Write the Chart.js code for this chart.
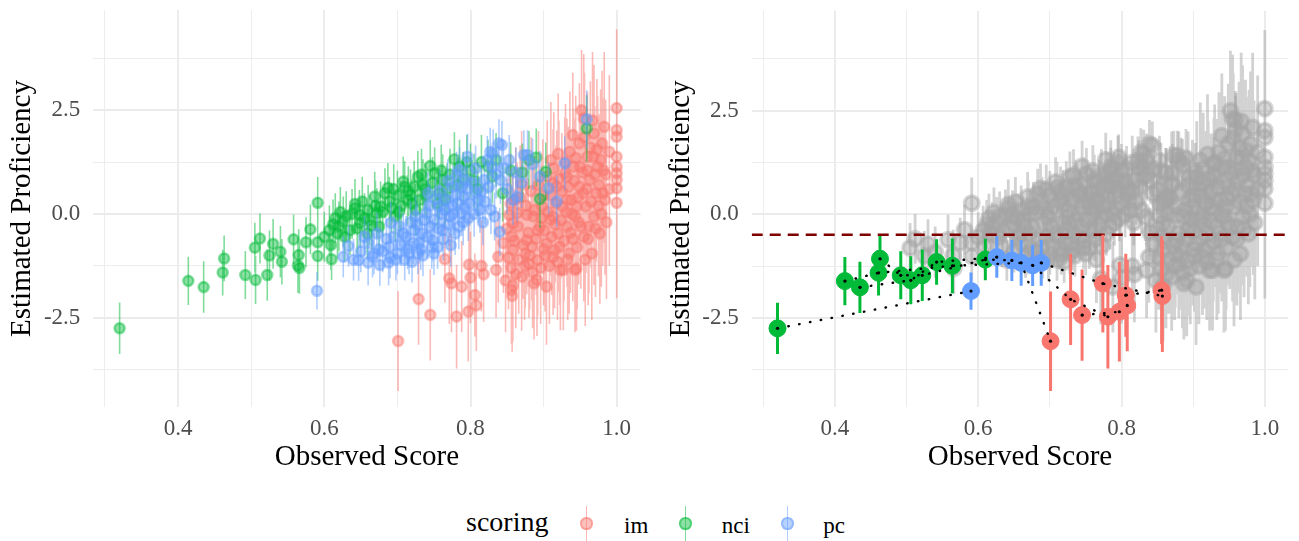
<!DOCTYPE html>
<html>
<head>
<meta charset="utf-8">
<script src="https://cdn.jsdelivr.net/npm/chart.js@4.4.1/dist/chart.umd.min.js"></script>
<style>
  body { margin: 0; background: #fff; width: 1299px; height: 541px; overflow: hidden; position: relative; font-family: "Liberation Serif", "Times New Roman", serif; }
  canvas { position: absolute; top: 0; }
  #left { left: 0; }
  #right { left: 650px; }
  .txt { position: absolute; white-space: nowrap; color: #000; font-family: "Liberation Serif", serif; }
  .key { position: absolute; top: 506px; width: 20px; height: 35px; }
  .key .bar { position: absolute; left: 9.2px; top: 0; width: 1.6px; height: 35px; }
  .key .dot { position: absolute; left: 3.7px; top: 11.2px; width: 12.6px; height: 12.6px; box-sizing: border-box; border-radius: 50%; border: 2.6px solid; }
</style>
</head>
<body>
<canvas id="left" width="650" height="480"></canvas>
<canvas id="right" width="649" height="480"></canvas>
<div class="txt" style="left:466px;top:508px;font-size:28px;line-height:28px">scoring</div>
<div id="keys"></div>
<script>
/* ── axis setup ── */
const X_MIN = 0.284, X_MAX = 1.0326, Y_MIN = -4.648, Y_MAX = 4.913;
const X_TICKS = [0.3, 0.4, 0.5, 0.6, 0.7, 0.8, 0.9, 1.0];
const X_MAJOR = [0.4, 0.6, 0.8, 1.0];
const X_LABELS = ['0.4', '0.6', '0.8', '1.0'];
const Y_TICKS = [-3.75, -2.5, -1.25, 0, 1.25, 2.5, 3.75];
const Y_MAJOR = [-2.5, 0, 2.5];
const Y_LABELS = ['-2.5', '0.0', '2.5'];
const CUTOFF = -0.49;
const GROUPS = ['im', 'nci', 'pc'];

/* ── im (red) ── */
const imX = [0.765,0.771,0.788,0.798,0.800,0.835,0.838,0.853,0.858,0.857,0.858,0.856,0.858,0.864,0.870,0.875,0.877,0.877,0.884,0.886,
  0.887,0.891,0.892,0.892,0.895,0.898,0.904,0.904,0.909,0.913,0.913,0.913,0.915,0.918,0.920,0.922,0.923,0.926,0.927,0.929,
  0.932,0.932,0.932,0.935,0.938,0.941,0.943,0.943,0.945,0.945,0.949,0.949,0.950,0.952,0.954,0.955,0.958,0.960,0.963,0.966,
  0.968,0.969,0.969,0.972,0.974,0.977,0.980,0.983,0.984,0.985,0.986,1.000,1.000,1.000,1.000,1.000,1.000,1.000,1.000,1.000,
  0.962,0.975,0.940,0.948,0.900,0.880,0.866,0.960,0.990,0.990,
  0.845,0.848,0.850,0.852,0.855,0.860,0.862,0.865,0.868,0.872,0.874,0.876,0.879,0.881,0.883,0.885,0.888,0.890,0.893,0.896,
  0.897,0.899,0.901,0.902,0.905,0.906,0.908,0.910,0.911,0.914,0.916,0.917,0.919,0.921,0.924,0.925,0.928,0.930,0.931,0.933,
  0.934,0.936,0.937,0.939,0.942,0.944,0.946,0.947,0.951,0.953,0.956,0.957,0.959,0.961,0.964,0.965,0.967,0.970,0.971,0.973,
  0.976,0.978,0.979,0.981,0.982,0.955,0.940,0.920,0.910,0.870,0.862,0.815,0.818];
const imY = [-1.09,-1.55,-1.75,-1.22,-1.53,-1.35,-1.03,-0.02,-0.22,-0.54,-0.86,-1.30,-1.72,0.02,-1.51,-0.95,-0.02,-0.63,-0.79,-0.06,
  -1.67,-1.59,-0.39,-1.11,-0.30,0.18,-0.71,-1.75,-0.14,-0.06,0.74,-1.03,-0.87,0.66,-0.47,-0.79,-1.35,0.18,-1.35,0.98,
  -0.30,0.34,0.90,-0.95,0.34,1.14,-0.06,-1.35,-1.31,0.18,1.70,0.66,1.14,2.50,0.50,-0.55,0.18,1.38,0.82,-0.95,
  1.38,1.94,-0.06,0.50,1.14,-0.47,1.70,2.10,0.34,0.95,-0.20,2.55,2.02,1.86,1.38,1.14,0.98,0.82,0.62,0.27,
  -0.30,0.20,-0.60,-0.20,-0.85,-1.20,-1.10,1.05,0.60,1.50,
  -0.70,-1.60,-0.35,-1.05,0.25,-0.65,-1.45,-0.30,0.40,-0.75,-1.25,0.20,-0.45,-1.00,0.55,-1.40,0.10,-0.60,0.70,-1.30,
  -0.10,0.45,-0.40,-1.00,0.90,0.05,-1.25,0.45,-0.55,1.10,-0.25,0.25,-1.15,0.85,-0.15,0.55,-0.65,1.25,0.05,-1.10,
  0.65,1.50,-0.45,0.00,0.80,1.35,-0.80,0.40,-0.30,1.00,1.85,-1.10,0.60,-0.60,1.60,0.30,2.25,0.95,-0.35,1.55,
  0.70,1.30,0.00,0.50,1.05,2.30,1.90,1.45,1.30,0.70,0.35,-1.25,-1.45];
const imSE = [1.05,1.1,1.1,1.15,1.1,1.15,1.1,1.2,1.2,1.25,1.3,1.3,1.35,1.2,1.3,1.3,1.25,1.3,1.3,1.3,
  1.35,1.35,1.3,1.35,1.3,1.3,1.35,1.4,1.35,1.35,1.3,1.4,1.4,1.35,1.4,1.4,1.45,1.4,1.45,1.35,
  1.45,1.4,1.4,1.45,1.45,1.4,1.5,1.5,1.5,1.5,1.45,1.5,1.5,1.45,1.55,1.55,1.6,1.55,1.6,1.6,
  1.6,1.65,1.65,1.65,1.7,1.7,1.75,1.8,1.8,1.8,1.85,1.9,1.9,1.9,1.9,1.9,1.9,1.9,1.9,2.3,
  1.6,1.7,1.5,1.5,1.35,1.3,1.3,1.6,1.85,1.85,
  1.2,1.25,1.2,1.25,1.2,1.25,1.3,1.25,1.25,1.3,1.3,1.3,1.3,1.3,1.3,1.35,1.3,1.35,1.3,1.35,
  1.3,1.35,1.35,1.35,1.35,1.35,1.4,1.35,1.4,1.35,1.4,1.4,1.4,1.4,1.4,1.4,1.45,1.4,1.45,1.45,
  1.45,1.45,1.45,1.45,1.5,1.5,1.5,1.5,1.5,1.5,1.55,1.6,1.55,1.6,1.6,1.6,1.65,1.65,1.65,1.7,
  1.7,1.7,1.75,1.75,1.75,1.55,1.5,1.45,1.4,1.3,1.25,1.1,1.15];

/* ── nci (green) ── */
const nciX = [0.505,0.512,0.525,0.530,0.540,0.558,0.566,0.565,0.575,0.581,0.591,0.591,0.591,0.607,0.609,0.615,0.618,0.620,0.626,0.630,
  0.635,0.642,0.642,0.648,0.649,0.655,0.659,0.660,0.665,0.669,0.672,0.677,0.680,0.687,0.689,0.697,0.700,0.705,0.708,0.714,
  0.715,0.720,0.723,0.728,0.731,0.735,0.740,0.745,0.751,0.755,0.757,0.762,0.768,0.778,0.785,0.790,0.800,0.810,0.824,0.830,
  0.844,0.871,0.890,0.895,0.903,0.959,
  0.600,0.612,0.622,0.628,0.638,0.645,0.652,0.662,0.670,0.675,0.683,0.692,0.695,0.702,0.710,0.718,0.725,0.733,0.738,0.748,
  0.760,0.765,0.772,0.782,0.795,0.805,0.815,0.835,0.855,0.880];
const nciY = [-0.81,-0.59,-1.00,-0.72,-0.91,-0.61,-1.30,-0.99,-0.68,-0.37,0.27,-0.68,-1.01,-0.39,-0.75,-0.10,-0.47,-0.30,-0.18,-0.05,
  -0.39,0.14,0.24,-0.02,-0.22,-0.10,-0.47,0.10,-0.28,0.42,0.02,0.18,0.05,0.63,0.30,-0.06,0.45,0.20,0.78,0.34,
  0.55,0.25,0.66,0.90,0.34,0.70,0.45,1.16,0.98,0.25,0.50,0.82,0.60,1.32,1.14,0.85,1.05,0.60,1.14,0.90,
  0.50,1.00,1.36,0.36,1.02,2.06,
  -0.55,-0.25,0.05,-0.55,0.00,-0.35,0.30,-0.15,0.20,-0.30,0.50,0.15,0.60,0.05,0.65,0.45,0.10,0.95,0.60,0.75,
  1.05,0.35,0.95,0.70,1.25,0.80,1.25,1.30,1.05,1.30];
const nciSE = [0.6,0.6,0.6,0.6,0.62,0.6,0.62,0.62,0.6,0.6,0.62,0.6,0.6,0.6,0.6,0.6,0.6,0.6,0.6,0.6,
  0.6,0.6,0.6,0.6,0.6,0.6,0.6,0.6,0.6,0.6,0.6,0.6,0.6,0.6,0.6,0.6,0.6,0.6,0.6,0.6,
  0.6,0.6,0.62,0.62,0.62,0.62,0.62,0.62,0.62,0.62,0.62,0.62,0.62,0.65,0.65,0.65,0.65,0.65,0.65,0.65,
  0.68,0.7,0.7,0.7,0.7,0.8,
  0.6,0.6,0.6,0.6,0.6,0.6,0.6,0.6,0.6,0.6,0.6,0.6,0.6,0.6,0.62,0.62,0.62,0.62,0.62,0.62,
  0.62,0.62,0.62,0.65,0.65,0.65,0.65,0.65,0.68,0.7];

/* ── pc (blue) ── */
const pcX = [0.633,0.650,0.660,0.666,0.672,0.675,0.680,0.689,0.690,0.691,0.695,0.700,0.705,0.708,0.710,0.714,0.718,0.720,0.723,0.725,
  0.728,0.730,0.734,0.735,0.740,0.742,0.745,0.748,0.750,0.751,0.755,0.757,0.760,0.762,0.767,0.770,0.772,0.775,0.776,0.779,
  0.780,0.782,0.785,0.788,0.790,0.791,0.793,0.795,0.796,0.799,0.805,0.808,0.813,0.815,0.819,0.820,0.825,0.827,0.830,0.831,
  0.833,0.839,0.840,0.841,0.843,0.853,0.858,0.864,0.873,0.878,0.895,0.907,0.918,0.929,0.959,
  0.640,0.655,0.668,0.685,0.698,0.703,0.712,0.716,0.722,0.727,0.732,0.737,0.741,0.744,0.747,0.752,0.756,0.758,0.763,0.765,
  0.769,0.773,0.777,0.781,0.784,0.787,0.792,0.797,0.802,0.807,0.811,0.817,0.823,0.828,0.835,0.845,0.850,0.862,0.870,0.885];
const pcY = [-0.77,-0.90,-0.70,-1.03,-0.47,-0.85,-0.90,-0.79,-1.05,-0.21,-0.55,-0.95,-0.75,-0.47,-1.10,-0.83,-0.20,-1.15,-0.39,-0.06,
  -0.95,-0.70,-0.47,-1.00,0.02,0.50,-0.30,-0.63,-0.95,-0.14,-0.80,0.18,0.00,-0.39,0.34,-0.25,-0.06,0.20,0.66,-0.47,
  0.45,0.26,1.06,0.02,-0.20,0.42,0.82,0.60,1.38,0.26,0.00,0.50,0.10,0.55,0.82,0.30,0.65,1.50,1.14,1.46,
  -0.06,1.70,-0.43,0.82,1.66,1.30,0.34,0.42,1.42,1.42,0.90,0.62,0.30,1.22,2.28,
  -1.10,-0.55,-0.95,-0.60,-1.10,-0.30,-0.55,-0.95,-0.70,-0.25,-0.85,-0.15,-0.55,0.20,-0.80,0.35,-0.35,0.55,-0.60,0.10,
  0.80,-0.75,0.00,0.95,-0.30,0.65,0.15,-0.10,0.75,1.10,0.35,-0.20,1.30,0.10,0.95,1.10,0.60,1.00,0.75,1.20];
const pcSE = [0.5,0.5,0.5,0.5,0.5,0.5,0.5,0.5,0.5,0.5,0.5,0.5,0.5,0.5,0.5,0.5,0.5,0.5,0.5,0.5,
  0.5,0.5,0.5,0.5,0.52,0.52,0.52,0.52,0.52,0.52,0.52,0.52,0.52,0.52,0.52,0.52,0.52,0.52,0.52,0.52,
  0.52,0.52,0.55,0.55,0.55,0.55,0.55,0.55,0.55,0.55,0.55,0.55,0.55,0.55,0.55,0.55,0.55,0.58,0.58,0.58,
  0.58,0.58,0.58,0.58,0.58,0.6,0.6,0.6,0.6,0.6,0.62,0.62,0.62,0.65,0.7,
  0.5,0.5,0.5,0.5,0.5,0.5,0.5,0.5,0.5,0.5,0.5,0.52,0.52,0.52,0.52,0.52,0.52,0.52,0.52,0.52,
  0.52,0.52,0.52,0.55,0.55,0.55,0.55,0.55,0.55,0.55,0.55,0.55,0.58,0.58,0.58,0.58,0.6,0.6,0.6,0.62];

/* ── highlighted cases (right panel, also shown on the left) ── */
const hiImX = [0.701,0.729,0.745,0.774,0.781,0.797,0.808,0.806,0.856,0.857];
const hiImY = [-3.06,-2.05,-2.43,-1.67,-2.47,-2.35,-2.20,-1.95,-1.83,-1.97];
const hiImSE = [1.2,1.1,1.1,1.18,1.25,1.2,1.1,1.0,1.3,1.35];
const hiNciX = [0.320,0.414,0.435,0.463,0.461,0.492,0.506,0.522,0.542,0.564,0.610];
const hiNciY = [-2.75,-1.61,-1.76,-1.07,-1.41,-1.47,-1.59,-1.47,-1.15,-1.24,-1.09];
const hiNciSE = [0.62,0.58,0.62,0.55,0.55,0.58,0.58,0.62,0.55,0.66,0.5];
const hiPcX = [0.590,0.626,0.647,0.660,0.676,0.688];
const hiPcY = [-1.85,-1.03,-1.11,-1.17,-1.23,-1.17];
const hiPcSE = [0.45,0.5,0.5,0.55,0.5,0.55];

/* dotted links between cases (i = im, n = nci, p = pc + index) */
const LINKS = [
  ['n0', 'p0'],
  ['n1', 'n4', 'n9', 'p3', 'i0'],
  ['n2', 'n6', 'n8', 'p1'],
  ['n3', 'n5', 'n7', 'n10', 'p2'],
  ['p4', 'i1', 'i4'],
  ['p5', 'i3', 'i9'],
  ['i2', 'i5'],
  ['i6', 'i7', 'i8']
];

const SERIF = '"Liberation Serif", serif';
const RGB = { im: '248,118,109', nci: '0,186,56', pc: '97,156,255' };
const SOLID = { im: '#F8766D', nci: '#00BA38', pc: '#619CFF' };
const A = 0.45;
const rgba = (g, a) => 'rgba(' + RGB[g] + ',' + a + ')';

const near = (a, b) => Math.abs(a - b) < 1e-6;

function pts(xs, ys) { return xs.map((x, i) => ({ x, y: ys[i] })); }
function bars(xs, ys, se) {
  const out = [];
  xs.forEach((x, i) => { out.push({ x, y: ys[i] - se[i] }, { x, y: ys[i] + se[i] }, { x, y: null }); });
  return out;
}
function barLayer(data, color, w) {
  return { type: 'line', data, borderColor: color, borderWidth: w, pointRadius: 0, spanGaps: false, fill: false, tension: 0, borderCapStyle: 'butt' };
}
function ptLayer(data, fill, stroke, r, bw) {
  return { type: 'scatter', data, pointRadius: r, pointBackgroundColor: fill, pointBorderColor: stroke, pointBorderWidth: bw, showLine: false };
}
function stack(layers) { return layers.map((d, i) => Object.assign(d, { order: layers.length - i })); }

const base = {
  im: { x: imX, y: imY, se: imSE },
  nci: { x: nciX, y: nciY, se: nciSE },
  pc: { x: pcX, y: pcY, se: pcSE }
};
const hi = {
  im: { x: hiImX, y: hiImY, se: hiImSE },
  nci: { x: hiNciX, y: hiNciY, se: hiNciSE },
  pc: { x: hiPcX, y: hiPcY, se: hiPcSE }
};

/* left: every case in its scoring colour */
const leftLayers = [];
GROUPS.forEach(g => {
  const xs = base[g].x.concat(hi[g].x), ys = base[g].y.concat(hi[g].y), se = base[g].se.concat(hi[g].se);
  leftLayers.push(barLayer(bars(xs, ys, se), rgba(g, 0.5), 1.6));
  leftLayers.push(ptLayer(pts(xs, ys), rgba(g, A), rgba(g, A), 5, 2.6));
});

/* right: others in grey, flagged cases on top */
const rightLayers = [];
GROUPS.forEach(g => rightLayers.push(barLayer(bars(base[g].x, base[g].y, base[g].se), 'rgba(165,165,165,0.5)', 2.8)));
GROUPS.forEach(g => rightLayers.push(ptLayer(pts(base[g].x, base[g].y), 'rgba(165,165,165,0.45)', 'rgba(165,165,165,0.45)', 7.2, 3.6)));
rightLayers.push({ type: 'line', data: [{ x: X_MIN, y: CUTOFF }, { x: X_MAX, y: CUTOFF }], borderColor: '#7F0000', borderWidth: 2.6, borderDash: [11, 7], pointRadius: 0 });
GROUPS.forEach(g => {
  rightLayers.push(barLayer(bars(hi[g].x, hi[g].y, hi[g].se), SOLID[g], 3));
  rightLayers.push(ptLayer(pts(hi[g].x, hi[g].y), SOLID[g], SOLID[g], 8.5, 1));
});
const KEY = { i: 'im', n: 'nci', p: 'pc' };
const linkData = [];
LINKS.forEach(path => {
  path.forEach(k => {
    const g = KEY[k[0]], j = +k.slice(1);
    linkData.push({ x: hi[g].x[j], y: hi[g].y[j] });
  });
  linkData.push({ x: hi.im.x[0], y: null });
});
rightLayers.push({ type: 'line', data: linkData, borderColor: '#000', borderWidth: 2.4, borderDash: [0.5, 10.5], borderCapStyle: 'round',
  spanGaps: false, fill: false, tension: 0, pointRadius: 1.6, pointBackgroundColor: '#000', pointBorderWidth: 0 });

function makeScales(yWidth, titlePad) {
  const gridX = { color: '#EBEBEB', drawTicks: false, lineWidth: c => X_MAJOR.some(v => near(v, c.tick.value)) ? 1.9 : 0.9 };
  const gridY = { color: '#EBEBEB', drawTicks: false, lineWidth: c => Y_MAJOR.some(v => near(v, c.tick.value)) ? 1.9 : 0.9 };
  return {
    x: {
      type: 'linear', min: X_MIN, max: X_MAX,
      afterBuildTicks: s => { s.ticks = X_TICKS.map(v => ({ value: v })); },
      afterFit: s => { s.height = 73; s.paddingLeft = 0; s.paddingRight = 0; },
      grid: gridX, border: { display: false },
      ticks: {
        autoSkip: false, maxRotation: 0, padding: 8.6, color: '#4D4D4D', font: { family: SERIF, size: 23 },
        callback: v => { const i = X_MAJOR.findIndex(m => near(m, v)); return i < 0 ? '' : X_LABELS[i]; }
      },
      title: { display: true, text: 'Observed Score', color: '#000', font: { family: SERIF, size: 29 }, padding: { top: 0, bottom: 5.4 } }
    },
    y: {
      type: 'linear', min: Y_MIN, max: Y_MAX,
      afterBuildTicks: s => { s.ticks = Y_TICKS.map(v => ({ value: v })); },
      afterFit: s => { s.width = yWidth; s.paddingTop = 0; s.paddingBottom = 0; },
      grid: gridY, border: { display: false },
      ticks: {
        autoSkip: false, padding: 13, color: '#4D4D4D', font: { family: SERIF, size: 23 },
        callback: v => { const i = Y_MAJOR.findIndex(m => near(m, v)); return i < 0 ? '' : Y_LABELS[i]; }
      },
      title: { display: true, text: 'Estimated Proficiency', color: '#000', font: { family: SERIF, size: 29 }, padding: { top: titlePad, bottom: 0 } }
    }
  };
}

function panel(id, layers, yWidth, titlePad, rightPad) {
  return new Chart(document.getElementById(id), {
    type: 'scatter',
    data: { datasets: stack(layers) },
    options: {
      responsive: false, animation: false, events: [],
      layout: { padding: { left: 0, right: rightPad, top: 10, bottom: 0 } },
      plugins: { legend: { display: false }, tooltip: { enabled: false } },
      scales: makeScales(yWidth, titlePad)
    }
  });
}

panel('left', leftLayers, 93.3, 5, 9.5);
panel('right', rightLayers, 101.7, 13.6, 0);

/* legend keys */
const keyPos = [586.7, 685.7, 787.7];
const labelPos = [624, 721.7, 823.3];
let kh = '';
GROUPS.forEach((g, i) => {
  kh += '<div class="key" style="left:' + (keyPos[i] - 10) + 'px">' +
        '<div class="bar" style="background:' + rgba(g, 0.5) + '"></div>' +
        '<div class="dot" style="background:' + rgba(g, A) + ';border-color:' + rgba(g, A) + '"></div></div>';
  kh += '<div class="txt" style="left:' + labelPos[i] + 'px;top:514px;font-size:23px;line-height:23px">' + g + '</div>';
});
document.getElementById('keys').innerHTML = kh;
</script>
</body>
</html>
